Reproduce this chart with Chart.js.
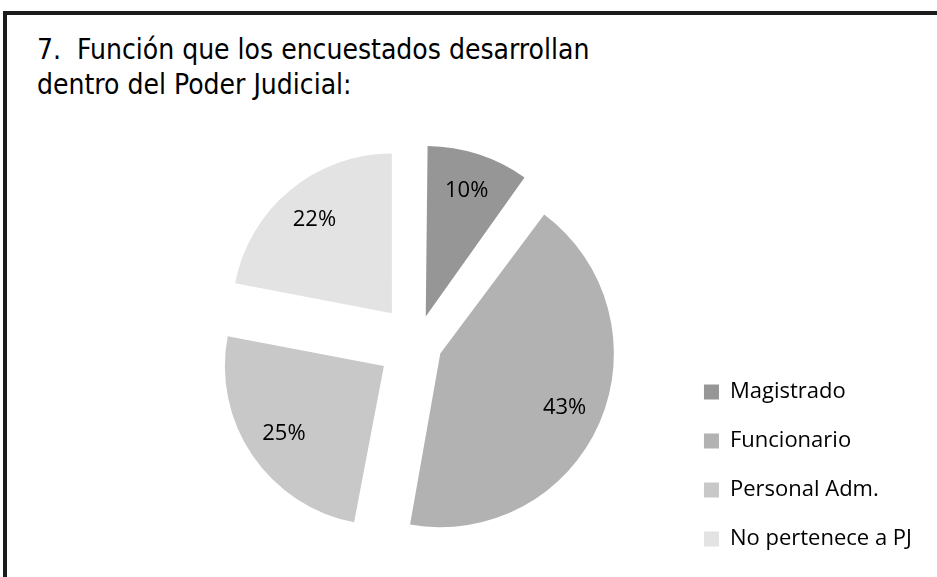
<!DOCTYPE html>
<html>
<head>
<meta charset="utf-8">
<script src="https://cdn.jsdelivr.net/npm/chart.js@4/dist/chart.umd.min.js"></script>
<style>
  html, body { margin: 0; padding: 0; background: #ffffff; }
  #wrap { position: relative; width: 937px; height: 577px; overflow: hidden; background: #fff; }
  #frame { position: absolute; left: 3px; top: 11px; right: -10px; bottom: -10px;
           border-top: 4px solid #1c1c1c; border-left: 4px solid #1c1c1c; }
  #title { position: absolute; left: 37px; top: 32px; font-family: "Liberation Sans Narrow", "DejaVu Sans Condensed", sans-serif;
           font-size: 28px; line-height: 35px; color: #000; white-space: nowrap; }
  canvas { position: absolute; left: 0; top: 0; }
</style>
</head>
<body>
<div id="wrap">
  <div id="frame"></div>
  <div id="title">7.&nbsp; Función que los encuestados desarrollan<br>dentro del Poder Judicial:</div>
  <canvas id="c" width="937" height="577"></canvas>
</div>
<script>
const categories = ['Magistrado', 'Funcionario', 'Personal Adm.', 'No pertenece a PJ'];
const shares = [10, 43, 25, 22];
const sliceColors = ['#969696', '#b2b2b2', '#c8c8c8', '#e3e3e3'];

const EXPLODE = 40;      // desired displacement of every slice, px
const LABEL_FRAC = 0.76; // label distance as fraction of radius

const total = shares.reduce((a, b) => a + b, 0);

// Chart.js v4 translates an arc by offset/4 * (1 + fix), fix = 1 - sin(min(PI, circumference))
function offsetFor(ctx) {
  const v = ctx.dataset.data[ctx.dataIndex];
  const circ = v / total * Math.PI * 2;
  const fix = 1 - Math.sin(Math.min(Math.PI, circ));
  return 4 * EXPLODE / (1 + fix);
}

const pctLabels = {
  id: 'pctLabels',
  afterDatasetsDraw(chart) {
    const ctx = chart.ctx;
    const meta = chart.getDatasetMeta(0);
    ctx.save();
    ctx.font = '22px "Open Sans", sans-serif';
    ctx.fillStyle = '#000';
    ctx.textAlign = 'center';
    ctx.textBaseline = 'middle';
    meta.data.forEach((arc, i) => {
      const p = arc.getProps(['x', 'y', 'startAngle', 'endAngle', 'outerRadius'], true);
      const mid = (p.startAngle + p.endAngle) / 2;
      const d = EXPLODE + LABEL_FRAC * p.outerRadius;
      ctx.fillText(shares[i] + '%', p.x + Math.cos(mid) * d, p.y + Math.sin(mid) * d);
    });
    ctx.restore();
  }
};

new Chart(document.getElementById('c'), {
  type: 'pie',
  data: {
    labels: categories,
    datasets: [{
      data: shares,
      backgroundColor: sliceColors,
      borderWidth: 0,
      offset: offsetFor,
      hoverOffset: 0
    }]
  },
  options: {
    responsive: false,
    animation: false,
    events: [],
    radius: 159,
    layout: { padding: { left: 157, top: 110, right: 15, bottom: 0 } },
    plugins: {
      tooltip: { enabled: false },
      title: { display: false },
      legend: {
        position: 'right',
        align: 'end',
        maxWidth: 300,
        labels: {
          boxWidth: 15,
          boxHeight: 15,
          padding: 27,
          color: '#000',
          font: { family: '"Open Sans", sans-serif', size: 22 }
        }
      }
    }
  },
  plugins: [pctLabels]
});
</script>
</body>
</html>
